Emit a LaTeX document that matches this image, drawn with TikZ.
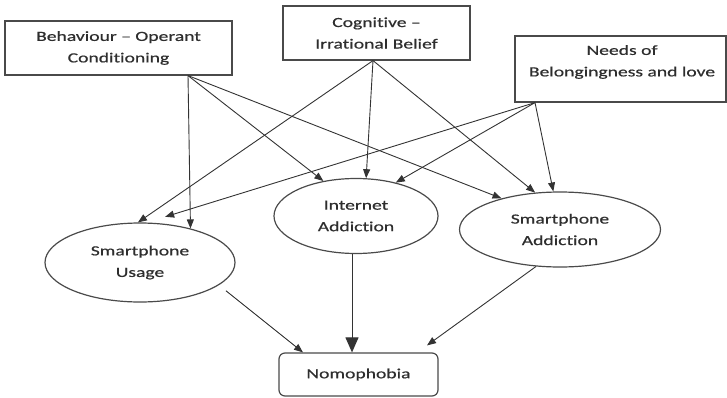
\documentclass[tikz,border=0pt]{standalone}
\usepackage{fontspec}
\setmainfont{Carlito}[FakeStretch=1.4,FakeBold=0.6,Ligatures={NoCommon}]
\usetikzlibrary{arrows.meta,shapes.geometric}
\definecolor{ln}{HTML}{333333}
\definecolor{bd}{HTML}{4A4A4A}
\definecolor{tx}{HTML}{2E2E2E}
\begin{document}
\begin{tikzpicture}[x=1pt,y=-1pt,
  font=\fontsize{14}{21.5}\selectfont,
  box/.style={draw=bd, line width=1.2pt, inner sep=0pt, align=center, text=tx},
  oval/.style={ellipse, draw=bd, line width=1.2pt, inner sep=0pt, align=center, text=tx},
  conn/.style={draw=ln, line width=0.9pt, -{Triangle[length=9pt,width=7pt]}},
  bigconn/.style={draw=ln, line width=1pt, -{Triangle[length=15pt,width=13pt]}}]
\useasboundingbox (0,0) rectangle (727,398);
% boxes
\node[box, minimum width=227pt, minimum height=54pt] (beh) at (118.5,48) {Behaviour – Operant\\Conditioning};
\node[box, minimum width=187pt, minimum height=54pt] (cog) at (376.5,33) {Cognitive –\\Irrational Belief};
\node[box, minimum width=211pt, minimum height=66pt] (needs) at (620.5,69) {};
\node[align=center, text=tx, inner sep=0pt] (needstxt) at (622,62) {Needs of\\Belongingness and love};
% ellipses
\node[oval, minimum width=164pt, minimum height=75pt] (int) at (356,216) {Internet\\Addiction};
\node[oval, minimum width=201pt, minimum height=75pt] (sa) at (560,229.5) {Smartphone\\Addiction};
\node[oval, minimum width=190pt, minimum height=79pt] (us) at (140,262.5) {Smartphone\\Usage};
\node[box, rounded corners=6pt, minimum width=159pt, minimum height=43pt] (nomo) at (358.5,374.5) {Nomophobia};
% sources
\coordinate (bsrc) at ([xshift=69.5pt]beh.south);
\coordinate (csrc) at ([xshift=-3.5pt]cog.south);
\coordinate (nsrc) at ([xshift=-85.5pt]needs.south);
% arrows from top boxes
\draw[conn] (bsrc) -- (us.34);
\draw[conn] (bsrc) -- (int.133);
\draw[conn] (bsrc) -- (sa.152);
\draw[conn] (csrc) -- (us.93);
\draw[conn] (csrc) -- (int.75);
\draw[conn] (csrc) -- (sa.124);
\draw[conn] (nsrc) -- ([yshift=7pt]us.57);
\draw[conn] (nsrc) -- (int.40);
\draw[conn] (nsrc) -- (sa.100);
% arrows to Nomophobia
\draw[conn, shorten <=9pt] (us.-16) -- ([xshift=-55.5pt]nomo.north);
\draw[bigconn] ([xshift=-4pt]int.south) -- ([xshift=-6.5pt]nomo.north);
\draw[conn] (sa.-123) -- ([xshift=68.5pt,yshift=7pt]nomo.north);
\end{tikzpicture}
\end{document}
